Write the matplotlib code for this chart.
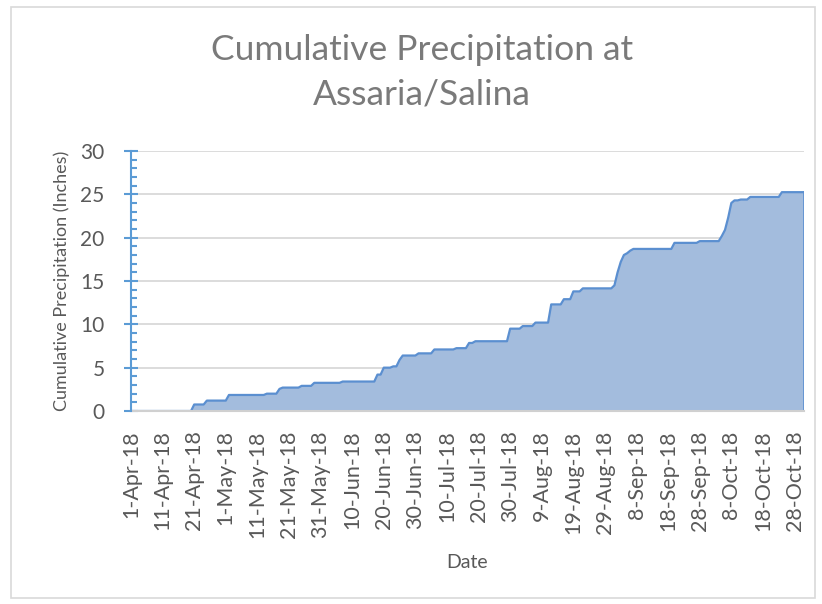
import numpy as np
import matplotlib
matplotlib.use("Agg")
import matplotlib.pyplot as plt
from matplotlib.patches import Rectangle
from matplotlib.ticker import MultipleLocator

# ---- data: cumulative precipitation (inches), one value per day ----
start_date = "2018-04-01"
apr = [0, 0, 0, 0, 0, 0, 0, 0, 0, 0,
       0, 0, 0, 0, 0, 0, 0, 0, 0, 0,
       0.75, 0.75, 0.75, 0.75, 1.2, 1.2, 1.2, 1.2, 1.2, 1.2]
may = [1.2, 1.85, 1.85, 1.85, 1.85, 1.85, 1.85, 1.85, 1.85, 1.85,
       1.85, 1.85, 1.85, 2.0, 2.0, 2.0, 2.0, 2.55, 2.7, 2.7,
       2.7, 2.7, 2.7, 2.7, 2.9, 2.9, 2.9, 2.9, 3.25, 3.25, 3.25]
jun = [3.25, 3.25, 3.25, 3.25, 3.25, 3.25, 3.4, 3.4, 3.4, 3.4,
       3.4, 3.4, 3.4, 3.4, 3.4, 3.4, 3.4, 4.2, 4.2, 5.0,
       5.0, 5.0, 5.15, 5.15, 5.9, 6.4, 6.4, 6.4, 6.4, 6.4]
jul = [6.65, 6.65, 6.65, 6.65, 6.65, 7.1, 7.1, 7.1, 7.1, 7.1,
       7.1, 7.1, 7.25, 7.25, 7.25, 7.25, 7.85, 7.85, 8.05, 8.05,
       8.05, 8.05, 8.05, 8.05, 8.05, 8.05, 8.05, 8.05, 8.05, 9.5, 9.5]
aug = [9.5, 9.5, 9.8, 9.8, 9.8, 9.8, 10.2, 10.2, 10.2, 10.2,
       10.2, 12.3, 12.3, 12.3, 12.3, 12.9, 12.9, 12.9, 13.8, 13.8,
       13.8, 14.15, 14.15, 14.15, 14.15, 14.15, 14.15, 14.15, 14.15, 14.15, 14.15]
sep = [14.5, 16.0, 17.2, 18.0, 18.2, 18.5, 18.7, 18.7, 18.7, 18.7,
       18.7, 18.7, 18.7, 18.7, 18.7, 18.7, 18.7, 18.7, 18.7, 19.4,
       19.4, 19.4, 19.4, 19.4, 19.4, 19.4, 19.4, 19.6, 19.6, 19.6]
oct_ = [19.6, 19.6, 19.6, 19.6, 20.2, 20.9, 22.3, 24.0, 24.3, 24.3,
        24.4, 24.4, 24.4, 24.7, 24.7, 24.7, 24.7, 24.7, 24.7, 24.7,
        24.7, 24.7, 24.7, 25.25, 25.25, 25.25, 25.25, 25.25, 25.25, 25.25, 25.25]

tick_labels = ["1-Apr-18", "11-Apr-18", "21-Apr-18", "1-May-18", "11-May-18",
               "21-May-18", "31-May-18", "10-Jun-18", "20-Jun-18", "30-Jun-18",
               "10-Jul-18", "20-Jul-18", "30-Jul-18", "9-Aug-18", "19-Aug-18",
               "29-Aug-18", "8-Sep-18", "18-Sep-18", "28-Sep-18", "8-Oct-18",
               "18-Oct-18", "28-Oct-18"]

values = np.array(apr + may + jun + jul + aug + sep + oct_, dtype=float)
dates = np.datetime64(start_date) + np.arange(len(values)).astype("timedelta64[D]")
tick_dates = np.datetime64(start_date) + (np.arange(len(tick_labels)) * 10).astype("timedelta64[D]")

# ---- style ----
FONT = ["Lato", "DejaVu Sans"]
plt.rcParams["font.family"] = FONT
TXT = "#595959"
BLUE = "#5B9BD5"

fig = plt.figure(figsize=(8.22, 6.04), dpi=100)
ax = fig.add_axes([131 / 822, 1 - 411 / 604, (804 - 131) / 822, (411 - 151) / 604])

ax.fill_between(dates, values, 0, facecolor="#A3BCDD", edgecolor="none", zorder=2)
ax.plot(dates, values, color="#5B8FD0", lw=1.6, zorder=3)
ax.plot([dates[-1], dates[-1]], [0, values[-1]], color="#5B8FD0", lw=1.2, zorder=3)

ax.set_xlim(dates[0], dates[-1])
ax.set_ylim(0, 30)
ax.yaxis.set_major_locator(MultipleLocator(5))
ax.yaxis.set_minor_locator(MultipleLocator(1))
ax.grid(axis="y", which="major", color="#D9D9D9", lw=1.3, zorder=0)
ax.set_axisbelow(True)

ax.set_xticks(tick_dates)
ax.set_xticklabels(tick_labels, rotation=90, fontsize=15.5, color=TXT)
ax.tick_params(axis="x", length=0, pad=14)
ax.tick_params(axis="y", which="major", direction="inout", length=10, width=1.5,
               color=BLUE, labelsize=15, labelcolor=TXT, pad=14)
ax.tick_params(axis="y", which="minor", direction="in", length=4.5, width=1.5, color=BLUE)

for s in ("top", "right"):
    ax.spines[s].set_visible(False)
ax.spines["left"].set_color(BLUE)
ax.spines["left"].set_linewidth(1.5)
ax.spines["left"].set_zorder(5)
ax.spines["bottom"].set_color("#D0D0D0")
ax.spines["bottom"].set_linewidth(1.5)
ax.spines["bottom"].set_zorder(4)

ax.set_ylabel("Cumulative Precipitation (Inches)", fontsize=13, color=TXT)
ax.yaxis.set_label_coords(-(131 - 70) / 673, 0.5)
fig.text(467.5 / 822, 1 - 562 / 604, "Date", ha="center", va="center", fontsize=14, color=TXT)

fig.text(422 / 822, 1 - 60 / 604, "Cumulative Precipitation at", ha="center",
         va="baseline", fontsize=25.5, color="#7A7A7A")
fig.text(422 / 822, 1 - 104 / 604, "Assaria/Salina", ha="center",
         va="baseline", fontsize=25.5, color="#7A7A7A")

fig.patches.append(Rectangle((11 / 822, 1 - 598 / 604), (815 - 11) / 822, (598 - 7) / 604,
                             transform=fig.transFigure, fill=False,
                             edgecolor="#D9D9D9", lw=1.2))

fig.savefig("out.png", dpi=100, facecolor="white")
